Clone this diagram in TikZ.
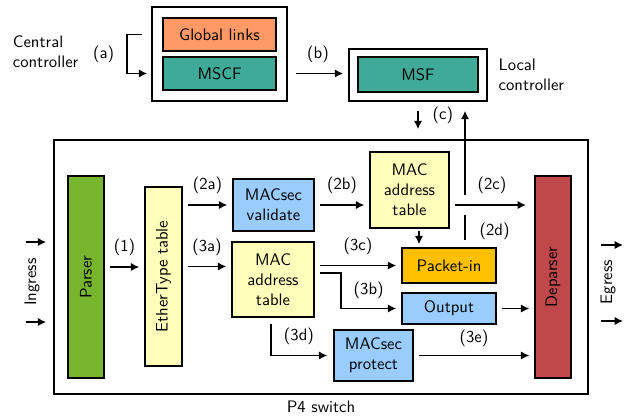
\documentclass[tikz,border=0pt]{standalone}
\usepackage{tikz}
\usepackage{graphicx}
\usetikzlibrary{positioning, arrows.meta}
\renewcommand{\familydefault}{\sfdefault}

\definecolor{linkorange}{RGB}{255,153,102}
\definecolor{secteal}{RGB}{64,170,153}
\definecolor{parsegreen}{RGB}{119,181,46}
\definecolor{tableyellow}{RGB}{255,255,187}
\definecolor{secblue}{RGB}{153,204,255}
\definecolor{pktorange}{RGB}{255,192,0}
\definecolor{deparsered}{RGB}{192,72,74}

\tikzset{
	box/.style={draw, line width=0.9pt, align=center, inner sep=0pt},
	frame/.style={draw, line width=1pt},
	arrow/.style={line width=0.9pt, -{Latex[length=5pt, width=5pt]}},
	flow/.style={arrow, shorten <=3pt, shorten >=3pt},
	tag/.style={above=3pt}
}

\begin{document}
\begin{tikzpicture}[x=0.6pt, y=-0.6pt]
		\useasboundingbox (0,0) rectangle (631,418);

		\node[frame, minimum width=81pt, minimum height=56.4pt] (central) at (219.5,54) {};
		\node[box, fill=linkorange, minimum width=67.8pt, minimum height=19.8pt]
		(glinks) at (219.5,34.5) {Global links};
		\node[box, fill=secteal, minimum width=67.8pt, minimum height=19.8pt]
		(mscf) at (219.5,73.5) {MSCF};
		\node[align=left, anchor=west] (centraltxt) at (7,52) {Central\\controller};

		\node[frame, minimum width=82.8pt, minimum height=31.2pt] (local) at (418,75) {};
		\node[box, fill=secteal, minimum width=72pt, minimum height=21pt]
		(msf) at (418,74.5) {MSF};
		\node[align=left, right=3pt of local] (localtxt) {Local\\controller};

		\node[frame, minimum width=320.4pt, minimum height=152.4pt] (switch) at (321,267) {};
		\node[below=0pt of switch] (switchtxt) {P4 switch};

		\node[box, fill=parsegreen, minimum width=21.6pt, minimum height=121.2pt]
		(parser) at (86,277) {\rotatebox{90}{Parser}};
		\node[box, fill=tableyellow, minimum width=22.2pt, minimum height=107.4pt]
		(ether) at (163.5,276.5) {\rotatebox{90}{EtherType table}};
		\node[box, fill=secblue, minimum width=48.6pt, minimum height=31.2pt]
		(validate) at (273.5,205) {MACsec\\validate};
		\node[box, fill=tableyellow, minimum width=49.2pt, minimum height=45pt]
		(lowmac) at (273,279.5) {MAC\\address\\table};
		\node[box, fill=tableyellow, minimum width=47.4pt, minimum height=45.6pt]
		(upmac) at (409.5,190) {MAC\\address\\table};
		\node[box, fill=pktorange, minimum width=56.4pt, minimum height=21pt]
		(pktin) at (449,265.5) {Packet-in};
		\node[box, fill=secblue, minimum width=56.4pt, minimum height=18.6pt]
		(output) at (449,308.5) {Output};
		\node[box, fill=secblue, minimum width=47.4pt, minimum height=30.6pt]
		(protect) at (373.5,355.5) {MACsec\\protect};
		\node[box, fill=deparsered, minimum width=21.6pt, minimum height=121.2pt]
		(deparser) at (553,277) {\rotatebox{90}{Deparser}};

		\node[rotate=90] (ingress) at (32,282) {Ingress};
		\node[rotate=90] (egress) at (608,282) {Egress};
		\coordinate (in1) at (26,242);
		\coordinate (in2) at (26,322);
		\coordinate (out1) at (623,245);
		\coordinate (out2) at (623,321);
		\draw[arrow, shorten >=4.2pt] (in1) -- (in1 -| switch.west);
		\draw[arrow, shorten >=4.2pt] (in2) -- (in2 -| switch.west);
		\draw[arrow, shorten <=7.2pt] (out1 -| switch.east) -- (out1);
		\draw[arrow, shorten <=7.2pt] (out2 -| switch.east) -- (out2);

		\draw[arrow, shorten <=5.4pt, shorten >=2.4pt] (central.west |- glinks.west)
		-- ++(-14.4pt,0) |- node[pos=0.25, left=4pt] {(a)} (central.west |- mscf.west);
		\draw[flow, shorten <=4.8pt] (central.east |- mscf) -- node[tag] {(b)} (local.west |- mscf);
		\draw[arrow, shorten <=5.4pt, shorten >=6pt] (local.south)
		-- node[pos=0.36, right=5pt] {(c)} (local.south |- switch.north);

		\draw[flow] ([yshift=6pt]parser.east) -- node[tag] {(1)} ([yshift=6pt]parser.east -| ether.west);
		\draw[flow] (validate.west -| ether.east) -- node[tag] {(2a)} (validate.west);
		\draw[flow] ([yshift=6pt]ether.east) -- node[tag] {(3a)} ([yshift=6pt]ether.east -| lowmac.west);
		\draw[flow] (validate.east) -- node[tag] {(2b)} (validate.east -| upmac.west);
		\draw[flow, shorten >=5pt] (upmac.east |- validate.east) -- node[tag] {(2c)} (validate.east -| deparser.west);
		\draw[arrow, shorten <=1.2pt, shorten >=1.8pt] ([xshift=5.7pt]upmac.south)
		-- ([xshift=5.7pt]upmac.south |- pktin.north);

		\coordinate (upfoot) at ([xshift=9.6pt]pktin.north);
		\coordinate (cross) at (upfoot |- validate.east);
		\draw[line width=0.9pt, shorten <=4.2pt] (upfoot) -- node[right=5pt] {(2d)} ([yshift=-6pt]cross);
		\draw[arrow, shorten >=5.4pt] ([yshift=6pt]cross) -- (cross |- local.south);

		\draw[flow] (lowmac.east |- pktin.west) -- node[tag] {(3c)} (pktin.west);
		\draw[arrow, shorten <=3pt, shorten >=3pt] ([yshift=4pt]lowmac.east)
		-- ++(15.6pt,0) |- node[pos=0.25, right=4pt] {(3b)} (output.west);
		\draw[flow] (output.east) -- (output.east -| deparser.west);
		\draw[arrow, shorten <=3.6pt, shorten >=3.6pt] ([xshift=-1.2pt]lowmac.south)
		|- node[pos=0.25, right=4pt] {(3d)} (protect.west);
		\draw[flow] (protect.east) -- node[tag, above=1.5pt] {(3e)} (protect.east -| deparser.west);
\end{tikzpicture}
\end{document}
